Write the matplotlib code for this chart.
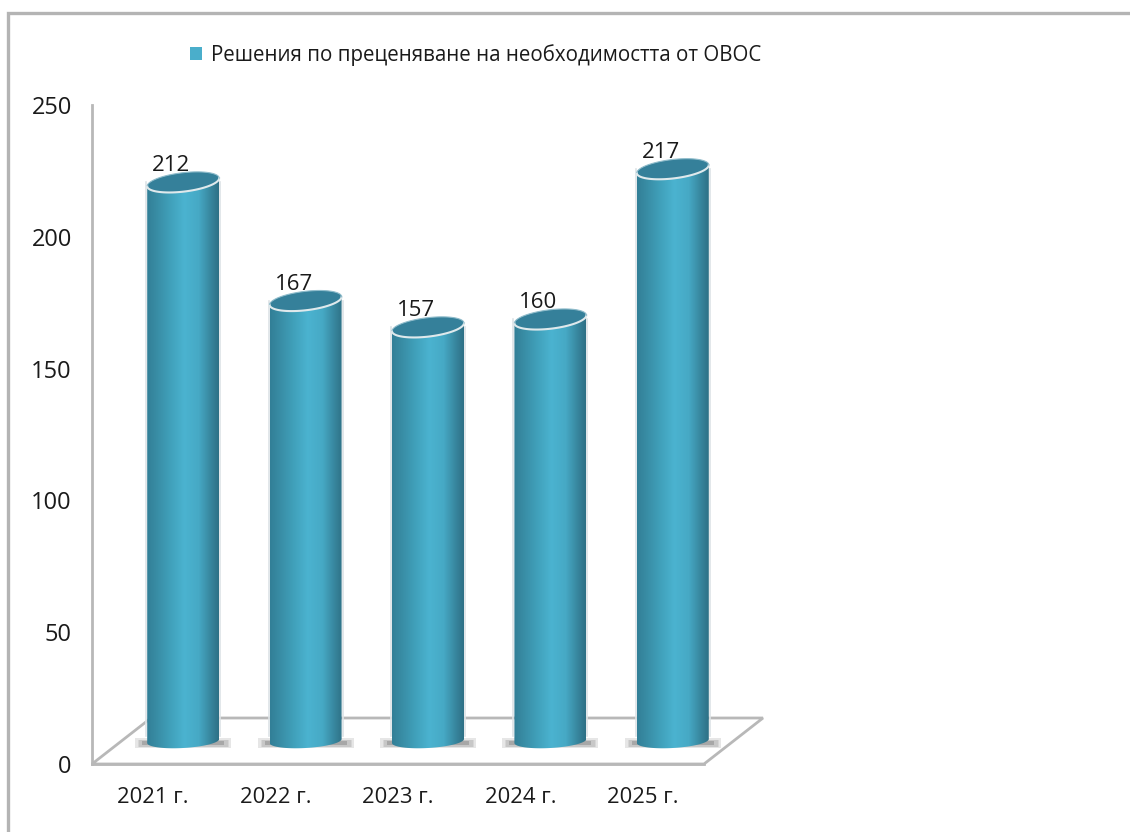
import numpy as np
import matplotlib
matplotlib.use('Agg')
import matplotlib.pyplot as plt
from matplotlib.colors import LinearSegmentedColormap
from matplotlib.patches import Patch, Polygon, Rectangle
from matplotlib.path import Path
from matplotlib.transforms import Affine2D

plt.rcParams['font.family'] = ['Open Sans', 'DejaVu Sans']

years = ['2021 г.', '2022 г.', '2023 г.', '2024 г.', '2025 г.']
decisions = [212, 167, 157, 160, 217]
y_ticks = [0, 50, 100, 150, 200, 250]
series_name = 'Решения по преценяване на необходимостта от ОВОС'

W, H = 1130, 832
fig = plt.figure(figsize=(W / 100, H / 100), dpi=100, facecolor='white')
ax = fig.add_axes([92 / W, (H - 764) / H, 612 / W, 659 / H])
ax.set_facecolor('none')

# outer chart frame, cut off by the picture on the right and bottom
fig.add_artist(Rectangle((8 / W, -0.05), 1.2, (H - 13) / H + 0.05, transform=fig.transFigure,
                         fill=False, edgecolor='#b4b4b4', linewidth=2.4))

ax.set_xlim(-0.5, 4.5)
ax.set_ylim(0, 250)
px_x = 5 / 612
px_y = 250 / 659

# bars stand on the 3d floor, so they sit up and right of the axis
shift = ax.transData + Affine2D().translate(30, 23)

# floor of the 3d box
floor = Polygon([(0, 0), (1, 0), (1 + 59 / 612, 46 / 659), (59 / 612, 46 / 659)],
                closed=True, transform=ax.transAxes, fill=False,
                edgecolor='#b8b8b8', linewidth=2.0, clip_on=False, zorder=1)
ax.add_patch(floor)

cyl = LinearSegmentedColormap.from_list('cyl', [
    (0.0, '#327f97'), (0.12, '#388ba3'), (0.32, '#40a0ba'), (0.52, '#4bb3d0'),
    (0.72, '#46a9c5'), (0.88, '#38879f'), (1.0, '#2e7085')])
grad = np.linspace(0, 1, 256).reshape(1, -1)

half_w = 36 * px_x
top_h = 9.5 * px_y
top_tilt = 4 * px_y
base_h = 7 * px_y
base_tilt = 2 * px_y
t = np.linspace(0, 2 * np.pi, 121)

for i, v in enumerate(decisions):
    ex = i + half_w * np.cos(t)
    low = t >= np.pi
    top_y = top_h * np.sin(t) + top_tilt * np.cos(t)
    base_y = base_h * np.sin(t) + base_tilt * np.cos(t)

    # soft shadow on the floor
    for spread, lw, a in [(48, 10, 0.16), (45, 7, 0.24), (41, 4, 0.32)]:
        ax.plot([i - spread * px_x, i + spread * px_x], [-2 * px_y, -2 * px_y],
                color='#666666', lw=lw * 0.72, alpha=a, transform=shift,
                clip_on=False, zorder=2, solid_capstyle='butt')

    # body of the cylinder: front of the bottom ellipse up to the top ellipse
    bx = np.concatenate([ex[low], [i + half_w, i - half_w]])
    by = np.concatenate([base_y[low], [v + top_tilt, v - top_tilt]])
    for side in (-1, 1):
        ax.plot([i + side * (half_w + px_x)] * 2, [2, v], color='#dde3e6', lw=1.2,
                transform=shift, zorder=3, clip_on=False)
    im = ax.imshow(grad, cmap=cyl, aspect='auto', extent=(i - half_w, i + half_w, -30, v + 15),
                   transform=shift, zorder=4)
    im.set_clip_box(fig.bbox)
    im.set_clip_path(Path(np.column_stack([bx, by])), shift)

    # top of the cylinder
    ax.fill(ex, top_y + v, color='#35809a', transform=shift, zorder=5, lw=0, clip_on=False)
    ax.plot(ex[low], top_y[low] + v, color='#dfe9ec', lw=1.5, transform=shift, zorder=6, clip_on=False)
    ax.plot(ex[~low], top_y[~low] + v, color='#8fbccb', lw=0.8, transform=shift, zorder=6, clip_on=False)

    ax.annotate(str(v), (i, v), xytext=(18 * 0.72, 39.5 * 0.72), textcoords='offset points',
                ha='center', va='center', fontsize=16, color='#1a1a1a', zorder=7, annotation_clip=False)

ax.set_xlim(-0.5, 4.5)
ax.set_ylim(0, 250)
ax.set_xticks(range(len(years)))
ax.set_xticklabels(years)
ax.set_yticks(y_ticks)
ax.tick_params(axis='x', length=0, pad=16.5, labelsize=15.8, labelcolor='#1a1a1a')
ax.tick_params(axis='y', length=0, pad=14.5, labelsize=17, labelcolor='#1a1a1a')
ax.spines['top'].set_visible(False)
ax.spines['right'].set_visible(False)
for s in ['left', 'bottom']:
    ax.spines[s].set_color('#b8b8b8')
    ax.spines[s].set_linewidth(2.0)

leg = ax.legend(handles=[Patch(facecolor='#4aaecb', label=series_name)], frameon=False,
                loc='center left', bbox_to_anchor=(190 / W, (H - 55) / H),
                bbox_transform=fig.transFigure, fontsize=14.8, handlelength=0.58,
                handleheight=0.58, handletextpad=0.45, borderpad=0, borderaxespad=0,
                labelcolor='#1a1a1a')

fig.savefig('out.png', dpi=100)
